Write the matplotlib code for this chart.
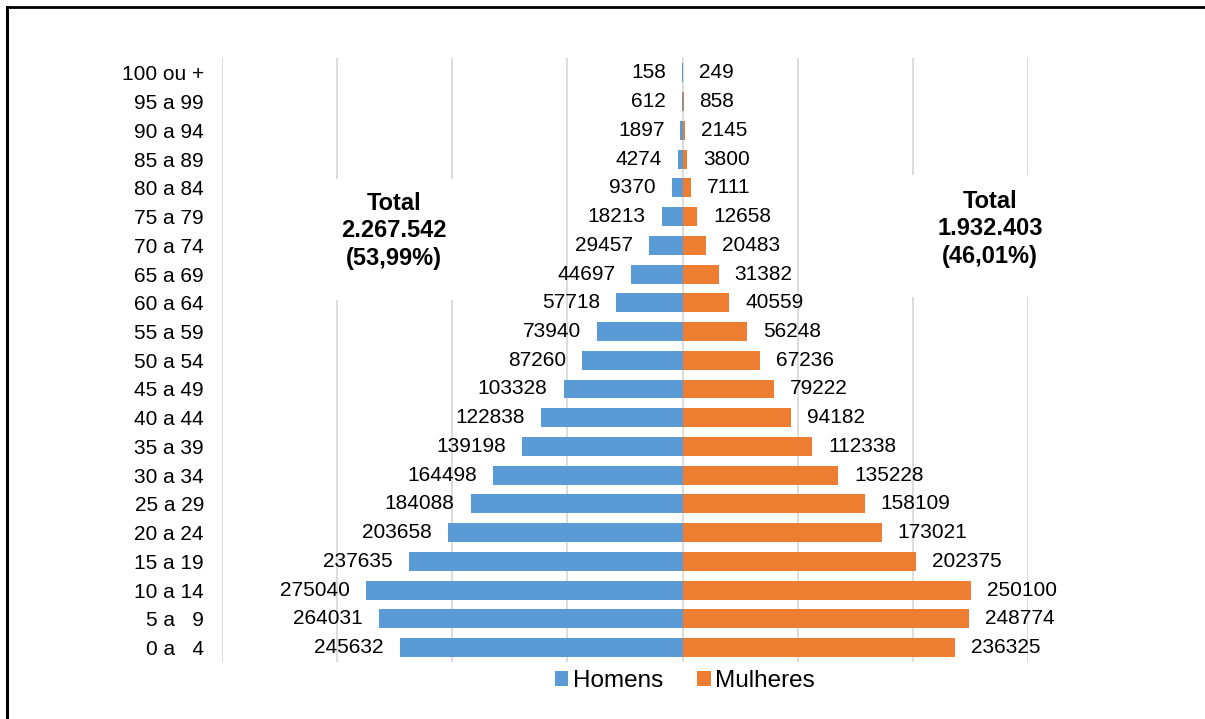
import numpy as np
import matplotlib
matplotlib.use('Agg')
import matplotlib.pyplot as plt
from matplotlib.patches import Patch, Rectangle
from matplotlib.lines import Line2D

plt.rcParams['font.family'] = ['Liberation Sans', 'DejaVu Sans']

faixas = ['100 ou +', '95 a 99', '90 a 94', '85 a 89', '80 a 84', '75 a 79',
          '70 a 74', '65 a 69', '60 a 64', '55 a 59', '50 a 54', '45 a 49',
          '40 a 44', '35 a 39', '30 a 34', '25 a 29', '20 a 24', '15 a 19',
          '10 a 14', '5 a   9', '0 a   4']
homens = [158, 612, 1897, 4274, 9370, 18213, 29457, 44697, 57718, 73940, 87260,
          103328, 122838, 139198, 164498, 184088, 203658, 237635, 275040,
          264031, 245632]
mulheres = [249, 858, 2145, 3800, 7111, 12658, 20483, 31382, 40559, 56248,
            67236, 79222, 94182, 112338, 135228, 158109, 173021, 202375,
            250100, 248774, 236325]
total_h = ['Total', '2.267.542', '(53,99%)']
total_m = ['Total', '1.932.403', '(46,01%)']

azul = '#5B9BD5'
laranja = '#ED7D31'
grade = '#D9D9D9'

W, H = 1205, 719
fig = plt.figure(figsize=(W / 100, H / 100), dpi=100)
ax = fig.add_axes([222 / W, 1 - 662 / H, (1028 - 222) / W, (662 - 58.5) / H])

y = np.arange(len(faixas))[::-1]
h = np.array(homens)
m = np.array(mulheres)
ax.barh(y, -h, height=0.66, color=azul, zorder=3)
ax.barh(y, m, height=0.66, color=laranja, zorder=3)

for yi, v in zip(y, h):
    ax.annotate(str(v), xy=(-v, yi), xytext=(-11.5, 0), textcoords='offset points',
                ha='right', va='center', fontsize=15, color='#000000', zorder=4)
for yi, v in zip(y, m):
    ax.annotate(str(v), xy=(v, yi), xytext=(11.5, 0), textcoords='offset points',
                ha='left', va='center', fontsize=15, color='#000000', zorder=4)

ax.set_xlim(-400000, 300000)
ax.set_ylim(-0.5, len(faixas) - 0.5)
ax.set_xticks(np.arange(-400000, 300001, 100000))
ax.xaxis.grid(True, color=grade, linewidth=1.3, zorder=0)
ax.tick_params(axis='x', length=0, labelbottom=False)
ax.set_yticks(y)
ax.set_yticklabels(faixas, fontsize=15)
ax.tick_params(axis='y', length=0, pad=13)
for s in ax.spines.values():
    s.set_visible(False)

# white boxes behind the totals, they cut through the gridlines
for x0, x1, y0, y1, lines, cx, cy in [
        (330, 462, 179, 300, total_h, 394, 231),
        (905, 1075, 175, 297, total_m, 990, 229)]:
    fig.add_artist(Rectangle((x0 / W, 1 - y1 / H), (x1 - x0) / W, (y1 - y0) / H,
                             transform=fig.transFigure, facecolor='white',
                             edgecolor='none', zorder=5))
    fig.text(cx / W, 1 - cy / H, '\n'.join(lines), ha='center', va='center',
             fontsize=17, fontweight='bold', linespacing=1.26, zorder=6)

handles = [Patch(facecolor=azul, label='Homens'),
           Patch(facecolor=laranja, label='Mulheres')]
fig.legend(handles=handles, loc='center', bbox_to_anchor=(685 / W, 1 - 681 / H),
           ncol=2, frameon=False, fontsize=17.5, handlelength=0.55,
           handleheight=0.55, handletextpad=0.2, columnspacing=1.4,
           borderpad=0)

# chart border (only top and left edges fall inside the image)
fig.add_artist(Line2D([7.5 / W, 1], [1 - 7 / H, 1 - 7 / H], color='black',
                      linewidth=2, transform=fig.transFigure))
fig.add_artist(Line2D([7.5 / W, 7.5 / W], [0, 1 - 7 / H], color='black',
                      linewidth=2.2, transform=fig.transFigure))

fig.savefig('out.png', dpi=100)
